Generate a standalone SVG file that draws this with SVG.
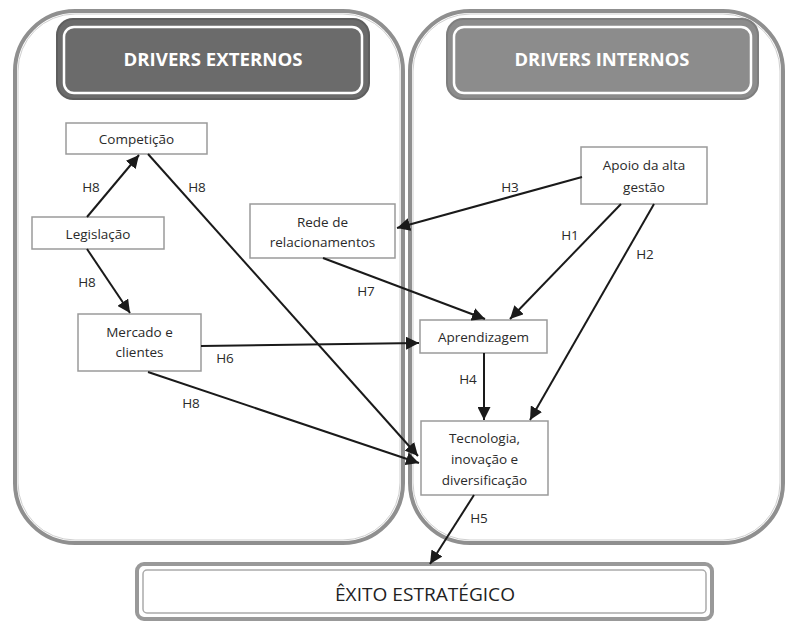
<svg xmlns="http://www.w3.org/2000/svg" width="787" height="622" viewBox="0 0 787 622">
  <style>
    .panel { fill: #ffffff; stroke: #8f8f8f; stroke-width: 4; }
    .panel-in { fill: none; stroke: #cfcfcf; stroke-width: 1; }
    .hdr-in { fill: none; stroke: #ffffff; stroke-width: 2.5; }
    .hdr-txt { font-family: "Open Sans", "Liberation Sans", sans-serif; font-weight: bold; font-size: 17px; fill: #ffffff; text-anchor: middle; }
    .box { fill: #ffffff; stroke: #9a9a9a; stroke-width: 1.5; }
    .lbl { font-family: "Open Sans", "Liberation Sans", sans-serif; font-size: 13.5px; fill: #2a2a2a; text-anchor: middle; }
    .edge { stroke: #1a1a1a; stroke-width: 2; fill: none; marker-end: url(#arr); }
    .h { font-family: "Open Sans", "Liberation Sans", sans-serif; font-size: 13.5px; fill: #2a2a2a; text-anchor: middle; }
  </style>
  <defs>
    <marker id="arr" viewBox="0 0 10 10" refX="10" refY="5" markerWidth="6.5" markerHeight="6.5" markerUnits="strokeWidth" orient="auto">
      <path d="M0,0 L10,5 L0,10 z" fill="#1a1a1a"/>
    </marker>
  </defs>

  <!-- panels -->
  <g id="panel-externos">
    <rect class="panel" x="15" y="11" width="388" height="532" rx="60"/>
    <rect class="panel-in" x="18" y="14" width="382" height="526" rx="57"/>
    <rect x="57" y="19" width="312" height="80" rx="16" fill="#6b6b6b" stroke="#5e5e5e" stroke-width="2"/>
    <rect class="hdr-in" x="64" y="27" width="298" height="66" rx="10"/>
    <text class="hdr-txt" x="213" y="66" textLength="179" lengthAdjust="spacingAndGlyphs">DRIVERS EXTERNOS</text>
  </g>
  <g id="panel-internos">
    <rect class="panel" x="410" y="11" width="373" height="532" rx="60"/>
    <rect class="panel-in" x="413" y="14" width="367" height="526" rx="57"/>
    <rect x="447" y="19" width="311" height="80" rx="16" fill="#8c8c8c" stroke="#7e7e7e" stroke-width="2"/>
    <rect class="hdr-in" x="454" y="27" width="297" height="66" rx="10"/>
    <text class="hdr-txt" x="602" y="66" textLength="175" lengthAdjust="spacingAndGlyphs">DRIVERS INTERNOS</text>
  </g>

  <!-- nodes -->
  <g id="competicao">
    <rect class="box" x="66" y="123" width="141" height="31"/>
    <text class="lbl" x="136.5" y="143.5">Competição</text>
  </g>
  <g id="legislacao">
    <rect class="box" x="32" y="217" width="132" height="32"/>
    <text class="lbl" x="98" y="238.5">Legislação</text>
  </g>
  <g id="mercado">
    <rect class="box" x="78" y="314" width="123" height="57"/>
    <text class="lbl" x="139.5" y="336.5">Mercado e</text>
    <text class="lbl" x="139.5" y="357">clientes</text>
  </g>
  <g id="rede">
    <rect class="box" x="250" y="204" width="145" height="54"/>
    <text class="lbl" x="322.5" y="226.5">Rede de</text>
    <text class="lbl" x="322.5" y="247">relacionamentos</text>
  </g>
  <g id="apoio">
    <rect class="box" x="581" y="147" width="126" height="57"/>
    <text class="lbl" x="644" y="169.5">Apoio da alta</text>
    <text class="lbl" x="644" y="191.5">gestão</text>
  </g>
  <g id="aprendizagem">
    <rect class="box" x="420" y="320" width="127" height="33"/>
    <text class="lbl" x="483.5" y="341.5">Aprendizagem</text>
  </g>
  <g id="tecnologia">
    <rect class="box" x="421" y="421" width="127" height="74"/>
    <text class="lbl" x="484.5" y="442.5">Tecnologia,</text>
    <text class="lbl" x="484.5" y="463.5">inovação e</text>
    <text class="lbl" x="484.5" y="484.5">diversificação</text>
  </g>
  <g id="exito">
    <rect x="137" y="564" width="575" height="55" rx="7" fill="#ffffff" stroke="#999999" stroke-width="4"/>
    <rect x="143" y="570" width="563" height="43" rx="4" fill="none" stroke="#aaaaaa" stroke-width="1.5"/>
    <text x="425" y="600.5" font-family="'Open Sans', 'Liberation Sans', sans-serif" font-size="18" fill="#222222" text-anchor="middle" textLength="180" lengthAdjust="spacingAndGlyphs">ÊXITO ESTRATÉGICO</text>
  </g>

  <!-- connectors -->
  <g id="connectors">
    <line class="edge" x1="87" y1="217" x2="139" y2="155"/>
    <line class="edge" x1="87" y1="249" x2="130" y2="313"/>
    <line class="edge" x1="148" y1="154" x2="418" y2="456"/>
    <line class="edge" x1="201" y1="346" x2="419" y2="343"/>
    <line class="edge" x1="148" y1="372" x2="419" y2="463"/>
    <line class="edge" x1="323" y1="258" x2="485" y2="319"/>
    <line class="edge" x1="582" y1="177" x2="397" y2="228"/>
    <line class="edge" x1="621" y1="204" x2="510" y2="319"/>
    <line class="edge" x1="654" y1="204" x2="530" y2="420"/>
    <line class="edge" x1="484" y1="353" x2="484" y2="420"/>
    <line class="edge" x1="474" y1="495" x2="430" y2="564"/>

    <text class="h" x="91" y="192">H8</text>
    <text class="h" x="197" y="192">H8</text>
    <text class="h" x="87" y="287">H8</text>
    <text class="h" x="366" y="296">H7</text>
    <text class="h" x="225" y="363">H6</text>
    <text class="h" x="510" y="192">H3</text>
    <text class="h" x="570" y="240">H1</text>
    <text class="h" x="645" y="259">H2</text>
    <text class="h" x="468" y="384">H4</text>
    <text class="h" x="191" y="408">H8</text>
    <text class="h" x="479" y="523">H5</text>
  </g>
</svg>
